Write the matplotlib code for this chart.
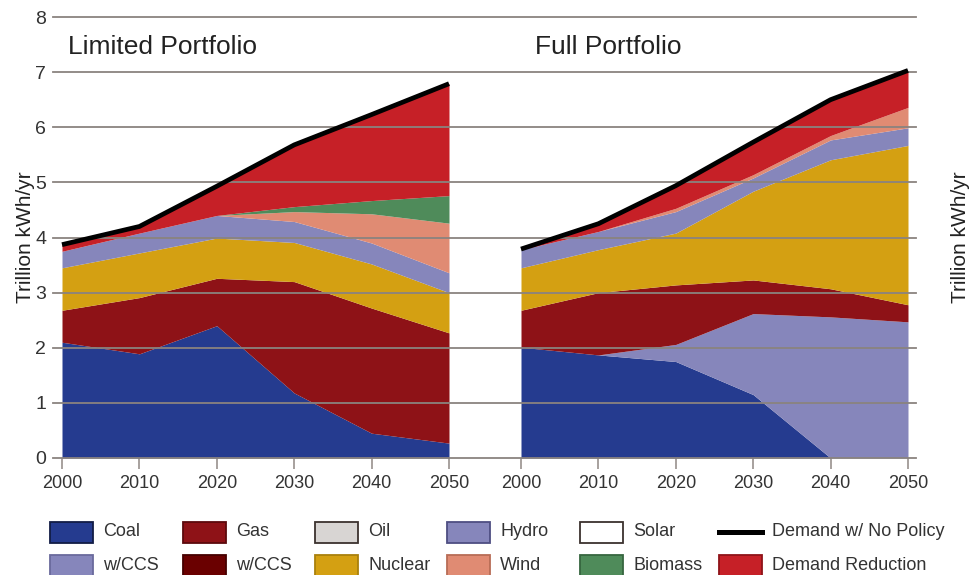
import numpy as np
import matplotlib
matplotlib.use("Agg")
import matplotlib.pyplot as plt
from matplotlib.patches import Rectangle
from matplotlib.lines import Line2D

plt.rcParams['font.family'] = ['Liberation Sans', 'DejaVu Sans']

# Data (trillion kWh/yr)
years = [2000, 2010, 2020, 2030, 2040, 2050]
panel_titles = ["Limited Portfolio", "Full Portfolio"]

# Limited portfolio, layer thicknesses
lim_coal = [2.10, 1.89, 2.40, 1.18, 0.45, 0.27]
lim_coal_ccs = [0, 0, 0, 0, 0, 0]
lim_gas = [0.58, 1.02, 0.86, 2.02, 2.27, 2.00]
lim_gas_ccs = [0, 0, 0, 0, 0, 0]
lim_nuclear = [0.77, 0.81, 0.73, 0.71, 0.80, 0.73]
lim_hydro = [0.30, 0.36, 0.41, 0.38, 0.38, 0.36]
lim_wind = [0, 0, 0, 0.18, 0.53, 0.90]
lim_biomass = [0, 0, 0, 0.09, 0.24, 0.50]
lim_demand = [3.87, 4.20, 4.93, 5.68, 6.23, 6.79]

# Full portfolio, layer thicknesses
full_coal = [2.01, 1.87, 1.75, 1.15, 0.0, 0.0]
full_coal_ccs = [0, 0, 0.31, 1.47, 2.56, 2.47]
full_gas = [0.67, 1.13, 1.08, 0.61, 0.51, 0.31]
full_gas_ccs = [0, 0, 0, 0, 0, 0]
full_nuclear = [0.77, 0.78, 0.94, 1.61, 2.34, 2.89]
full_hydro = [0.33, 0.33, 0.39, 0.24, 0.36, 0.32]
full_wind = [0, 0, 0.06, 0.06, 0.08, 0.37]
full_biomass = [0, 0, 0, 0, 0, 0]
full_demand = [3.79, 4.25, 4.94, 5.73, 6.50, 7.03]

colors = {
    "coal": "#253b8f", "coal_ccs": "#8686bb", "gas": "#8e1217",
    "gas_ccs": "#6a0000", "oil": "#d8d5d3", "nuclear": "#d4a012",
    "hydro": "#8686bb", "solar": "#ffffff", "wind": "#e08b73",
    "biomass": "#4f8b5a", "reduction": "#c62027",
}
edges = {
    "coal": "#121d45", "coal_ccs": "#6a6a9c", "gas": "#5c0a0d",
    "gas_ccs": "#450000", "oil": "#3b322e", "nuclear": "#a9800c",
    "hydro": "#4e4e82", "solar": "#3b322e", "wind": "#b86c56",
    "biomass": "#36663f", "reduction": "#8f1318",
}

fig = plt.figure(figsize=(9.72, 5.75), dpi=100)
# axes spans pixel x 53..916, y 17..458
ax = fig.add_axes([53 / 972, 1 - 458 / 575, (916 - 53) / 972, (458 - 17) / 575])

px_per_year = 7.74
offset_right = (521 - 62) / px_per_year  # right panel shift in axis units
ax.set_xlim(-(62 - 53) / px_per_year, (916 - 62) / px_per_year)
ax.set_ylim(0, 8)

panels = [
    (0.0, [lim_coal, lim_coal_ccs, lim_gas, lim_gas_ccs, lim_nuclear,
           lim_hydro, lim_wind, lim_biomass], lim_demand),
    (offset_right, [full_coal, full_coal_ccs, full_gas, full_gas_ccs, full_nuclear,
                    full_hydro, full_wind, full_biomass], full_demand),
]
layer_keys = ["coal", "coal_ccs", "gas", "gas_ccs", "nuclear", "hydro", "wind", "biomass"]

for shift, layers, demand in panels:
    x = np.array(years) - 2000 + shift
    base = np.zeros(len(years))
    for key, vals in zip(layer_keys, layers):
        top = base + np.array(vals)
        ax.fill_between(x, base, top, color=colors[key], linewidth=0, zorder=2)
        base = top
    ax.fill_between(x, base, demand, color=colors["reduction"], linewidth=0, zorder=2)
    ax.plot(x, demand, color="black", lw=3.4, zorder=5, solid_capstyle="butt")

# gridlines over the fills
for yv in range(0, 9):
    ax.axhline(yv, color="#8a837f", lw=1.3, zorder=4, clip_on=False)

for s in ax.spines.values():
    s.set_visible(False)

tick_pos = [y - 2000 for y in years] + [y - 2000 + offset_right for y in years]
ax.set_xticks(tick_pos)
ax.set_xticklabels([str(y) for y in years] * 2)
ax.tick_params(axis='x', length=8, width=1.3, color="#a09a96", labelsize=13,
               labelcolor="#333333", pad=4)
ax.set_yticks(range(0, 9))
ax.tick_params(axis='y', length=0, labelsize=14, labelcolor="#333333",
               labelleft=True, labelright=True, pad=5)
ax.set_ylabel("Trillion kWh/yr", fontsize=15, color="#222222", labelpad=0)

ax2 = ax.twinx()
ax2.set_ylim(0, 8)
ax2.set_yticks([])
for s in ax2.spines.values():
    s.set_visible(False)
ax2.set_ylabel("Trillion kWh/yr", fontsize=15, color="#222222", labelpad=25)

ax.text(0.8, 7.45, panel_titles[0], fontsize=19, color="#222222", va="center", zorder=6)
ax.text(offset_right + 1.8, 7.45, panel_titles[1], fontsize=19, color="#222222",
        va="center", zorder=6)

# legend drawn as a fixed grid
legend_rows = [
    [("Coal", "coal"), ("Gas", "gas"), ("Oil", "oil"), ("Hydro", "hydro"),
     ("Solar", "solar"), ("Demand w/ No Policy", None)],
    [("w/CCS", "coal_ccs"), ("w/CCS", "gas_ccs"), ("Nuclear", "nuclear"),
     ("Wind", "wind"), ("Biomass", "biomass"), ("Demand Reduction", "reduction")],
]
col_x = [50, 183, 315, 447, 580, 719]
row_y = [532, 565]
W, H = 972, 575
for r, row in enumerate(legend_rows):
    for c, (label, key) in enumerate(row):
        x0 = col_x[c]
        yc = row_y[r]
        if key is None:
            fig.add_artist(Line2D([x0 / W, (x0 + 43) / W], [1 - yc / H, 1 - yc / H],
                                  color="black", lw=3.6, transform=fig.transFigure))
        else:
            fig.add_artist(Rectangle((x0 / W, 1 - (yc + 10.5) / H), 43 / W, 21 / H,
                                     facecolor=colors[key], edgecolor=edges[key],
                                     lw=1.3, transform=fig.transFigure))
        fig.text((x0 + 53) / W, 1 - yc / H, label, fontsize=13, color="#333333",
                 va="center", ha="left")

fig.savefig("out.png", dpi=100)
